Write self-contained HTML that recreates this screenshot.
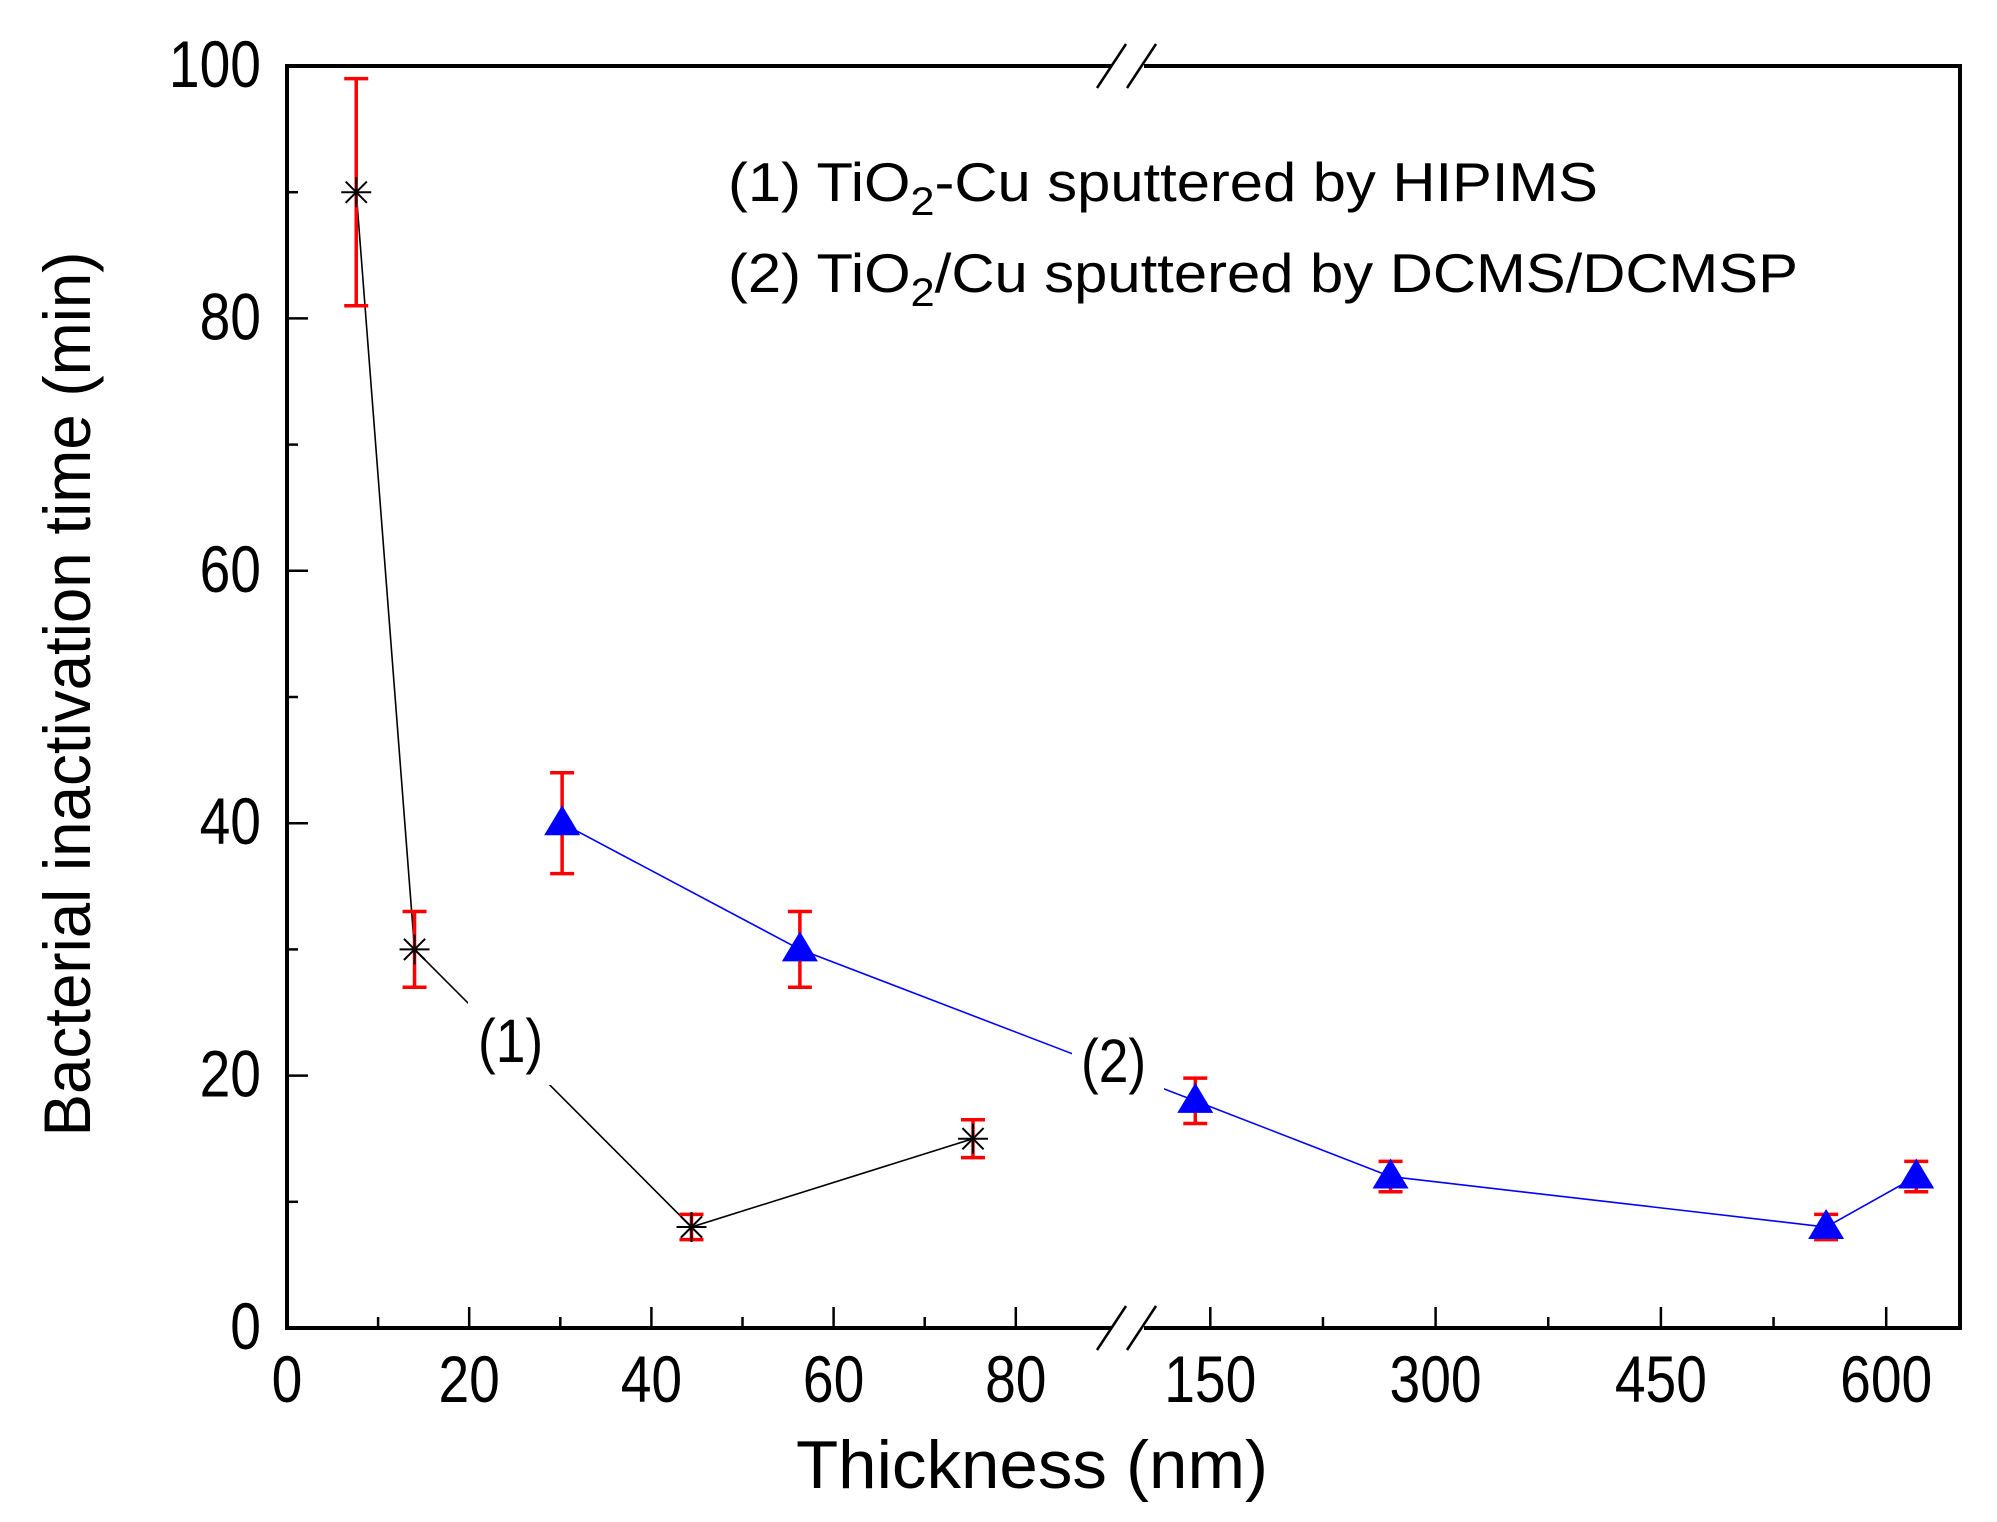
<!DOCTYPE html>
<html><head><meta charset="utf-8"><style>
html,body{margin:0;padding:0;background:#fff;}
svg{display:block;font-family:"Liberation Sans",Arial,sans-serif;}
</style></head><body>
<svg id="chart" width="1997" height="1522" viewBox="0 0 1997 1522" xmlns="http://www.w3.org/2000/svg">
<rect x="0" y="0" width="1997" height="1522" fill="#fff"/>
<g id="marks"></g>
<g id="axes"></g>
</svg>
<script>
const s1x = [7.6, 14, 44.4, 75.3];
const s1y = [90, 30, 8, 15];
const s1err = [9, 3, 1, 1.5];
const s2x = [30.2, 56.3, 140, 270, 560, 620];
const s2y = [40, 30, 18, 12, 8, 12];
const s2err = [4, 3, 1.8, 1.2, 1, 1.2];
const yTicks = [0, 20, 40, 60, 80, 100];
const xLeftTicks = [0, 20, 40, 60, 80];
const xRightTicks = [150, 300, 450, 600];

const NS = "http://www.w3.org/2000/svg";
const L = 287, R = 1960, T = 66, B = 1328;
function Y(v){ return B - v * (B - T) / 100; }
function X(v){ return v <= 88 ? L + v * 9.11 : 985 + v * 1.502; }
function mk(tag, attrs, parent){
  const e = document.createElementNS(NS, tag);
  for (const k in attrs) e.setAttribute(k, attrs[k]);
  parent.appendChild(e); return e;
}
const marks = document.getElementById('marks');
const axes = document.getElementById('axes');

function polyline(xs, ys, color, name){
  const pts = xs.map((x,i)=>X(x)+','+Y(ys[i])).join(' ');
  const p = mk('polyline', {points: pts, fill:'none', stroke:color, 'stroke-width':1.6}, marks);
  
  
}
polyline(s1x, s1y, '#000', 'series-1-line');
polyline(s2x, s2y, '#0000ff', 'series-2-line');

function label(x, y, w, h, tx, ty, txt, name){
  mk('rect', {x:x, y:y, width:w, height:h, fill:'#fff'}, marks);
  const t = mk('text', {x:tx, y:ty, 'font-size':58, fill:'#000', transform:'translate('+tx+','+ty+') scale(0.92,1.05) translate('+(-tx)+','+(-ty)+')'}, marks);
  t.textContent = txt;
  
  
}
label(468, 1000, 100, 85, 478, 1062, '(1)', 'series-1-label');
label(1072, 1030, 92, 68, 1081, 1082, '(2)', 'series-2-label');

function errbars(xs, ys, es, name){
  xs.forEach((x,i)=>{
    const cx = X(x), y1 = Y(ys[i]+es[i]), y2 = Y(ys[i]-es[i]);
    const g = mk('g', {stroke:'#ff0000', 'stroke-width':3.5}, marks);
    
    
    mk('line', {x1:cx, y1:y1, x2:cx, y2:y2}, g);
    mk('line', {x1:cx-12, y1:y1, x2:cx+12, y2:y1}, g);
    mk('line', {x1:cx-12, y1:y2, x2:cx+12, y2:y2}, g);
  });
}
errbars(s1x, s1y, s1err, 'series-1-error');
errbars(s2x, s2y, s2err, 'series-2-error');

s1x.forEach((x,i)=>{
  const cx = X(x), cy = Y(s1y[i]), r = 15, d = 10.6;
  const g = mk('g', {stroke:'#000', 'stroke-width':2}, marks);
  
  
  mk('line', {x1:cx-r, y1:cy, x2:cx+r, y2:cy}, g);
  mk('line', {x1:cx, y1:cy-r, x2:cx, y2:cy+r}, g);
  mk('line', {x1:cx-d, y1:cy-d, x2:cx+d, y2:cy+d}, g);
  mk('line', {x1:cx-d, y1:cy+d, x2:cx+d, y2:cy-d}, g);
});
s2x.forEach((x,i)=>{
  const cx = X(x), cy = Y(s2y[i]);
  const p = mk('polygon', {points:(cx)+','+(cy-18)+' '+(cx-18)+','+(cy+12)+' '+(cx+18)+','+(cy+12), fill:'#0000ff'}, marks);
  
  
});

const frame = mk('path', {d:'M'+L+','+T+' H'+R+' V'+B+' H'+L+' Z', fill:'none', stroke:'#000', 'stroke-width':4}, axes);


[T, B].forEach(yy=>{
  mk('rect', {x:1112, y:yy-4, width:32, height:8, fill:'#fff'}, axes);
  const g = mk('g', {stroke:'#000', 'stroke-width':2.5}, axes);
  
  
  mk('line', {x1:1097, y1:yy+22, x2:1126, y2:yy-22}, g);
  mk('line', {x1:1127, y1:yy+22, x2:1156, y2:yy-22}, g);
});

function tickText(x, y, anchor, v, name){
  const t = mk('text', {x:x, y:y, 'font-size':60, 'text-anchor':anchor, transform:'translate('+x+','+y+') scale(0.92,1.1) translate('+(-x)+','+(-y)+')'}, axes);
  t.textContent = v;
  
  
}
for (let v = 0; v <= 100; v += 10){
  const major = v % 20 === 0;
  mk('line', {x1:L, y1:Y(v), x2:L+(major?21:11), y2:Y(v), stroke:'#000', 'stroke-width':2.5}, axes);
}
yTicks.forEach(v=>tickText(L-26, Y(v)+21, 'end', v, 'y-tick-label'));
for (let v = 0; v <= 80; v += 10){
  const major = v % 20 === 0;
  mk('line', {x1:X(v), y1:B, x2:X(v), y2:B-(major?21:11), stroke:'#000', 'stroke-width':2.5}, axes);
}
xLeftTicks.forEach(v=>tickText(X(v), B+74, 'middle', v, 'x-tick-label'));
for (let v = 150; v <= 600; v += 75){
  const major = v % 150 === 0;
  mk('line', {x1:X(v), y1:B, x2:X(v), y2:B-(major?21:11), stroke:'#000', 'stroke-width':2.5}, axes);
}
xRightTicks.forEach(v=>tickText(X(v), B+74, 'middle', v, 'x-tick-label'));
</script>
<svg style="position:absolute;left:0;top:0" width="1997" height="1522" xmlns="http://www.w3.org/2000/svg">
<text x="1032" y="1488" font-size="68" text-anchor="middle" textLength="472" lengthAdjust="spacingAndGlyphs" font-family="Liberation Sans, sans-serif">Thickness (nm)</text>
<text transform="translate(90,694) rotate(-90)" x="0" y="0" font-size="66" text-anchor="middle" textLength="885" lengthAdjust="spacingAndGlyphs" font-family="Liberation Sans, sans-serif">Bacterial inactivation time (min)</text>
<text x="728" y="201" font-size="55" font-family="Liberation Sans, sans-serif" textLength="870" lengthAdjust="spacingAndGlyphs">(1) TiO<tspan font-size="40" dy="14">2</tspan><tspan dy="-14">-Cu sputtered by HIPIMS</tspan></text>
<text x="728" y="292" font-size="55" font-family="Liberation Sans, sans-serif" textLength="1070" lengthAdjust="spacingAndGlyphs">(2) TiO<tspan font-size="40" dy="14">2</tspan><tspan dy="-14">/Cu sputtered by DCMS/DCMSP</tspan></text>
</svg>
</body></html>
